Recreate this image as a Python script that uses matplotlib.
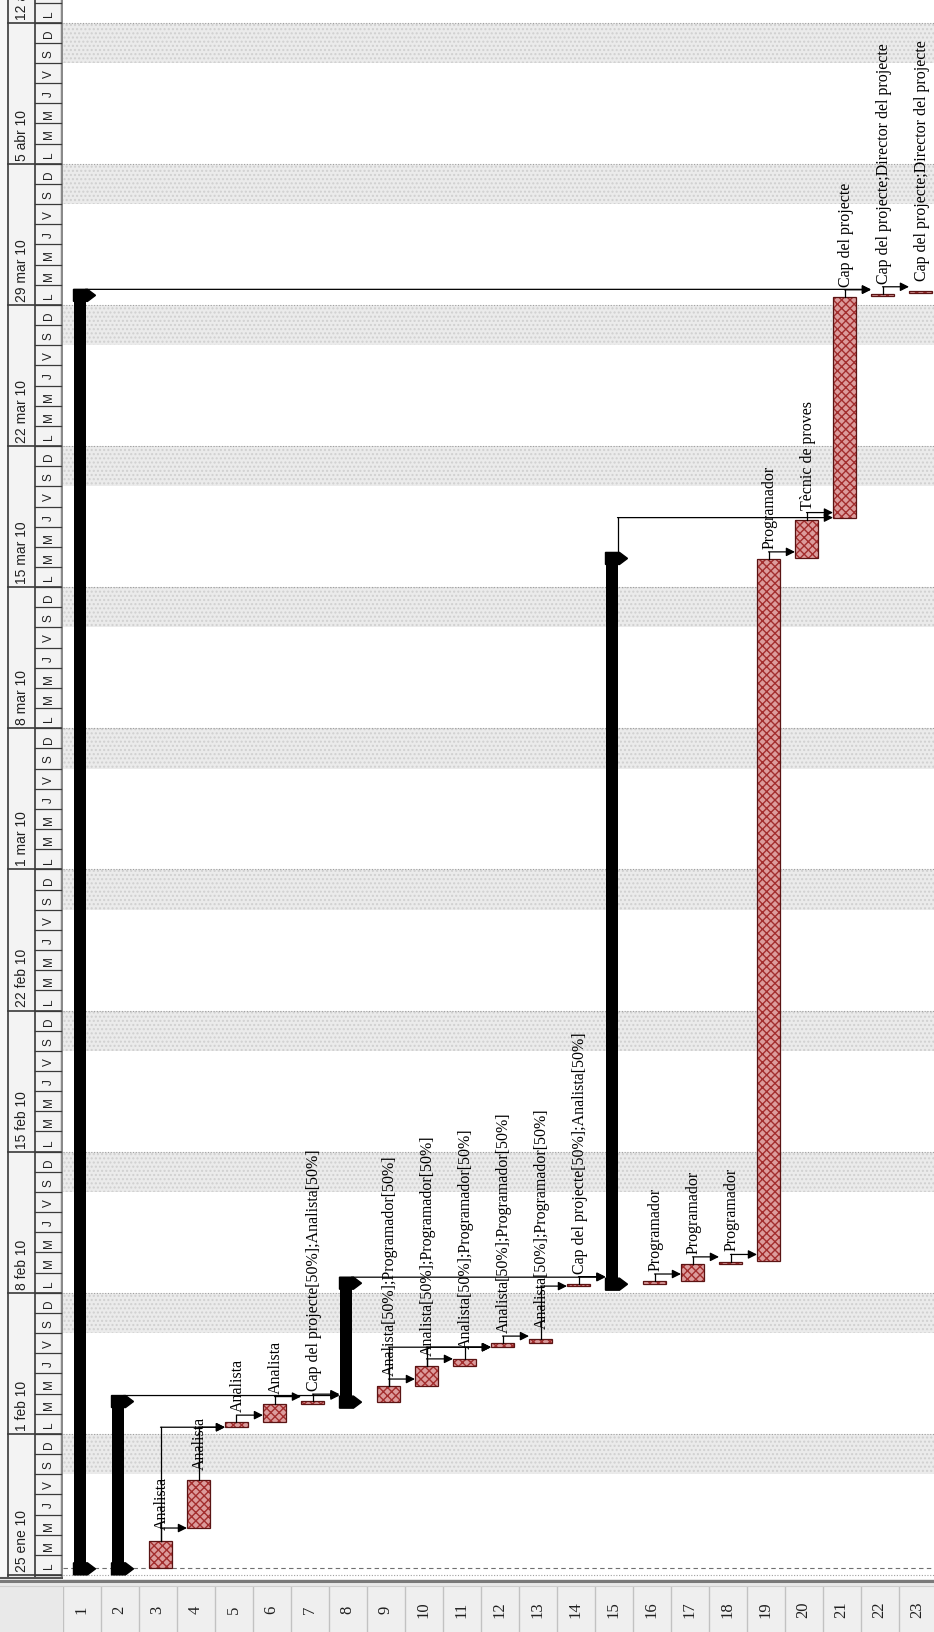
import matplotlib
matplotlib.use('Agg')
import matplotlib.pyplot as plt
from matplotlib.patches import Polygon
from matplotlib.lines import Line2D
from matplotlib import font_manager

# --- data: Gantt rows (days counted from Mon 25 ene 2010 00:00) ---
task_ids = list(range(1, 24))
summary_ids = [1, 2, 8, 15]
start_day = [0.33, 0.33, 0.33, 2.33, 7.33, 7.58, 8.50, 8.60, 8.60, 9.37, 10.37, 11.30,
             11.50, 14.33, 14.45, 14.45, 14.58, 15.43, 15.60, 50.45, 52.45, 63.45, 63.60]
end_day = [63.45, 8.58, 1.71, 4.71, 7.58, 8.50, 8.62, 14.45, 9.37, 10.37, 10.70, 11.50,
           11.70, 14.45, 50.40, 14.58, 15.43, 15.55, 50.40, 52.35, 63.40, 63.55, 63.70]
resources = ['', '', 'Analista', 'Analista', 'Analista', 'Analista',
             'Cap del projecte[50%];Analista[50%]', '',
             'Analista[50%];Programador[50%]', 'Analista[50%];Programador[50%]',
             'Analista[50%];Programador[50%]', 'Analista[50%];Programador[50%]',
             'Analista[50%];Programador[50%]', 'Cap del projecte[50%];Analista[50%]', '',
             'Programador', 'Programador', 'Programador', 'Programador',
             'Tècnic de proves', 'Cap del projecte',
             'Cap del projecte;Director del projecte', 'Cap del projecte;Director del projecte']
links = [(3, 4), (3, 5), (4, 5), (5, 6), (6, 7), (2, 8), (7, 8), (9, 10), (9, 12),
         (10, 11), (10, 12), (11, 12), (12, 13), (13, 14), (8, 15), (14, 15), (16, 17),
         (17, 18), (18, 19), (19, 20), (15, 21), (20, 21), (1, 22), (21, 22), (22, 23)]
week_labels = ['25 ene 10', '1 feb 10', '8 feb 10', '15 feb 10', '22 feb 10', '1 mar 10',
               '8 mar 10', '15 mar 10', '22 mar 10', '29 mar 10', '5 abr 10', '12 abr 10']
day_letters = ['L', 'M', 'M', 'J', 'V', 'S', 'D']

# --- layout in pixels ---
W, H = 934, 1633
X0 = 62.5          # left edge of the task columns
ROW_PX = 38.0
DAY_PX = 20.16
Y_D0 = 1576.0      # pixel row of day 0
CHART_BOTTOM = 1580.0
STRIP_TOP = 1587.0
PXX = 1 / ROW_PX
PXY = 1 / DAY_PX
EXT = 6.5 * PXY    # summary caps stick out past start / end

d_bottom = -(CHART_BOTTOM - Y_D0) / DAY_PX
d_top = Y_D0 / DAY_PX
x_max = (W - X0) / ROW_PX

fig = plt.figure(figsize=(W / 100, H / 100), dpi=100, facecolor='#e9e9e9')

main = fig.add_axes([X0 / W, (H - CHART_BOTTOM) / H, (W - X0) / W, CHART_BOTTOM / H])
main.set_xlim(0, x_max)
main.set_ylim(d_bottom, d_top)
main.axis('off')
main.add_patch(plt.Rectangle((0, d_bottom), x_max, d_top - d_bottom, color='white', zorder=0))

# weekends and week lines
for k in range(12):
    main.axhspan(7 * k + 5, 7 * k + 7, facecolor='#ebebeb', edgecolor='#d0d0d0',
                 hatch='....', linewidth=0, zorder=1)
    main.axhline(7 * k, color='#a0a0a0', ls=(0, (1, 1.5)), lw=0.8, zorder=1)
main.axhline(0.33, color='#707070', ls=(0, (4, 3)), lw=0.8, zorder=1)

label_font = 'Liberation Serif'


def center(i):
    return i - 0.5 + (0 if i in summary_ids else 3 * PXX)


# task bars
task_rows = [i for i in task_ids if i not in summary_ids]
tx = [center(i) for i in task_rows]
ts = [start_day[i - 1] for i in task_rows]
th = [end_day[i - 1] - start_day[i - 1] for i in task_rows]
main.bar(tx, th, width=23 * PXX, bottom=ts, color='#dc9c9c', edgecolor='#a32e2e',
         hatch='xxxx', linewidth=0, zorder=3)
main.bar(tx, th, width=23 * PXX, bottom=ts, fill=False, edgecolor='#5a1414',
         linewidth=0.9, zorder=4)

# summary bars with end caps
for i in summary_ids:
    cx = i - 0.5
    s, e = start_day[i - 1] - EXT, end_day[i - 1] + EXT
    main.bar(cx - 2 * PXX, e - s, width=12 * PXX, bottom=s, color='black', zorder=4)
    top = [(cx - 8 * PXX, e), (cx + 6 * PXX, e), (cx + 14 * PXX, e - 6 * PXY),
           (cx + 6 * PXX, e - 12 * PXY), (cx - 8 * PXX, e - 12 * PXY)]
    bot = [(cx - 8 * PXX, s), (cx + 6 * PXX, s), (cx + 14 * PXX, s + 6 * PXY),
           (cx + 6 * PXX, s + 12 * PXY), (cx - 8 * PXX, s + 12 * PXY)]
    main.add_patch(Polygon(top, closed=True, color='black', zorder=4))
    main.add_patch(Polygon(bot, closed=True, color='black', zorder=4))

# dependency links
for p, q in links:
    if p in summary_ids:
        px = p - 0.5 + 4 * PXX
        pd = end_day[p - 1] + EXT
        d_arrow = max(start_day[q - 1], pd)
    else:
        px = center(p)
        pd = end_day[p - 1]
        d_arrow = max(start_day[q - 1], pd + 0.35)
    if q in summary_ids:
        qx = q - 0.5 - 8 * PXX
    else:
        qx = center(q) - 11.5 * PXX
    if d_arrow > pd:
        main.plot([px, px], [pd, d_arrow], color='black', lw=0.9, zorder=5)
    main.annotate('', xy=(qx, d_arrow), xytext=(px, d_arrow),
                  arrowprops=dict(arrowstyle='-|>', color='black', lw=0.9,
                                  mutation_scale=13, shrinkA=0, shrinkB=0), zorder=5)

# resource labels
for i in task_rows:
    main.text(center(i) + 1.5 * PXX, end_day[i - 1] + 0.55, resources[i - 1], rotation=90,
              rotation_mode='anchor', ha='left', va='center', fontsize=11.5,
              family=label_font, color='black', zorder=6, clip_on=True)

# --- timescale header on the left ---
try:
    font_manager.findfont('Liberation Sans Narrow', fallback_to_default=False)
    hdr_font, week_size, day_size = 'Liberation Sans Narrow', 12.5, 9.5
except Exception:
    hdr_font, week_size, day_size = 'Liberation Sans', 10, 8.5

hdr = fig.add_axes([0, (H - CHART_BOTTOM) / H, X0 / W, CHART_BOTTOM / H])
hdr.set_xlim(0, X0)
hdr.set_ylim(d_bottom, d_top)
hdr.axis('off')
hdr.add_patch(plt.Rectangle((0, d_bottom), X0, d_top - d_bottom, color='#f3f3f3', zorder=0))
hdr.add_patch(plt.Rectangle((0, d_bottom), 8, d_top - d_bottom, color='#f8f8f8', zorder=0))
hdr.axvline(8, color='#3a3a3a', lw=1.2)
hdr.axvline(35, color='#3a3a3a', lw=1.2)
hdr.axvline(61.5, color='#8a8a8a', lw=2.5)
hdr.axhline(d_bottom + 0.05, color='#555555', lw=1.5)
for k, lab in enumerate(week_labels):
    hdr.plot([8, 61], [7 * k, 7 * k], color='#3a3a3a', lw=1.2)
    hdr.text(21.5, 7 * k + 0.2, lab, rotation=90, rotation_mode='anchor', ha='left',
             va='center', fontsize=week_size, family=hdr_font, color='#202020', clip_on=True)
for d in range(0, 79):
    hdr.plot([35, 61], [d, d], color='#3a3a3a', lw=0.9)
    hdr.text(48.5, d + 0.5, day_letters[d % 7], rotation=90, ha='center', va='center',
             fontsize=day_size, family=hdr_font, color='#202020', clip_on=True)

# --- row numbers along the bottom ---
strip = fig.add_axes([X0 / W, 0, (W - X0) / W, (H - STRIP_TOP) / H])
strip.set_xlim(0, x_max)
strip.set_ylim(0, 1)
strip.axis('off')
strip.add_patch(plt.Rectangle((0, 0), x_max, 1, color='#efefef', zorder=0))
for i in task_ids:
    strip.axvline(i, color='#c2c2c2', lw=1.0)
    strip.text(i - 0.5, 0.5, str(i), rotation=90, ha='center', va='center',
               fontsize=12, family='Liberation Serif', color='#202020')
strip.axvline(0, color='#c2c2c2', lw=1.0)

# separator between chart and row numbers
fig.add_artist(Line2D([0, 1], [(H - CHART_BOTTOM - 1.5) / H] * 2, color='#7a7a7a', lw=2.2,
                      transform=fig.transFigure))
fig.add_artist(Line2D([0, 1], [(H - STRIP_TOP) / H] * 2, color='#cfcfcf', lw=0.8,
                      transform=fig.transFigure))

fig.savefig('out.png', dpi=100, facecolor=fig.get_facecolor())
